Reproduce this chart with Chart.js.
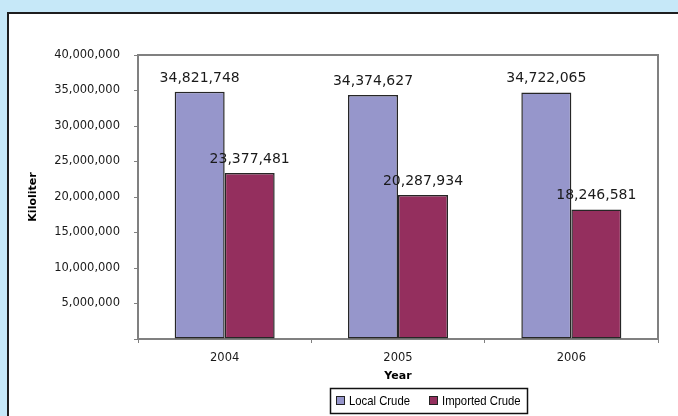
<!DOCTYPE html>
<html>
<head>
<meta charset="utf-8">
<script src="https://cdn.jsdelivr.net/npm/chart.js@4/dist/chart.umd.min.js"></script>
<style>
  html, body { margin: 0; padding: 0; width: 678px; height: 416px; overflow: hidden; background: #c6e8f8; }
  #panel { position: absolute; left: 7px; top: 12px; width: 800px; height: 500px; background: #ffffff;
           border-left: 2px solid #1e1e1e; border-top: 2px solid #1e1e1e; }
  #chart { position: absolute; left: 0; top: 0; }
</style>
</head>
<body>
<div id="panel"></div>
<canvas id="chart" width="678" height="416"></canvas>
<script>
// Crude oil supply by year, in kiloliters
const categories = ['2004', '2005', '2006'];
const localCrude = [34821748, 34374627, 34722065];
const importedCrude = [23377481, 20287934, 18246581];
const seriesNames = ['Local Crude', 'Imported Crude'];
const yMax = 40000000;
const yStep = 5000000;

const fmt = v => v.toLocaleString('en-US');
const AXIS = '#808080';

// Frame on top/right of the plot, value labels, axis titles and a boxed legend
const decorations = {
  id: 'decorations',
  afterDatasetsDraw(chart) {
    const { ctx, chartArea: a } = chart;
    ctx.save();
    // plot frame (top and right)
    ctx.strokeStyle = AXIS;
    ctx.lineWidth = 2;
    ctx.beginPath();
    ctx.moveTo(a.left, a.top);
    ctx.lineTo(a.right, a.top);
    ctx.lineTo(a.right, a.bottom);
    ctx.stroke();

    // value labels above bars
    ctx.fillStyle = '#1a1a1a';
    ctx.font = '14px "DejaVu Sans"';
    ctx.textAlign = 'center';
    ctx.textBaseline = 'alphabetic';
    chart.data.datasets.forEach((ds, i) => {
      chart.getDatasetMeta(i).data.forEach((bar, j) => {
        ctx.fillText(fmt(ds.data[j]), bar.x, bar.y - 10);
      });
    });

    // axis titles
    ctx.fillStyle = '#000';
    ctx.font = 'bold 11px "DejaVu Sans"';
    ctx.textBaseline = 'middle';
    ctx.fillText('Year', (a.left + a.right) / 2, a.bottom + 37);
    ctx.save();
    ctx.translate(33, (a.top + a.bottom) / 2);
    ctx.rotate(-Math.PI / 2);
    ctx.fillText('Kiloliter', 0, 0);
    ctx.restore();

    // legend
    const lx = a.left + 192, ly = a.bottom + 49, lw = 197, lh = 25;
    ctx.strokeStyle = '#111';
    ctx.lineWidth = 1.5;
    ctx.strokeRect(lx + 0.5, ly + 0.5, lw, lh);
    const items = [
      { x: lx + 6, ds: chart.data.datasets[0] },
      { x: lx + 99, ds: chart.data.datasets[1] }
    ];
    ctx.font = '13px "Liberation Sans"';
    ctx.textAlign = 'left';
    items.forEach(it => {
      const sy = ly + 8;
      ctx.fillStyle = it.ds.backgroundColor;
      ctx.fillRect(it.x, sy, 8, 8);
      ctx.strokeStyle = '#222';
      ctx.lineWidth = 1;
      ctx.strokeRect(it.x + 0.5, sy + 0.5, 8, 8);
      ctx.save();
      ctx.translate(it.x + 13, ly + 13);
      ctx.scale(0.87, 1);
      ctx.fillStyle = '#000';
      ctx.fillText(it.ds.label, 0, 0);
      ctx.restore();
    });
    ctx.restore();
  }
};

new Chart(document.getElementById('chart'), {
  type: 'bar',
  data: {
    labels: categories,
    datasets: [
      { label: seriesNames[0], data: localCrude, backgroundColor: '#9696cb',
        borderColor: '#262626', borderWidth: 1.5, borderSkipped: false },
      { label: seriesNames[1], data: importedCrude, backgroundColor: '#942f5e',
        borderColor: '#262626', borderWidth: 1.5, borderSkipped: false }
    ]
  },
  options: {
    responsive: false,
    animation: false,
    devicePixelRatio: 1,
    layout: { padding: { left: 0, top: 55, right: 20, bottom: 0 } },
    datasets: { bar: { categoryPercentage: 0.577, barPercentage: 1 } },
    plugins: { legend: { display: false }, tooltip: { enabled: false } },
    scales: {
      x: {
        afterFit(s) { s.height = 77; },
        grid: { offset: true, drawOnChartArea: false, tickLength: 4, color: AXIS, lineWidth: 1 },
        border: { color: AXIS, width: 2 },
        ticks: { padding: 8, color: '#1a1a1a', font: { family: 'DejaVu Sans', size: 11.5 } }
      },
      y: {
        min: 0, max: yMax,
        afterFit(s) { s.width = 138; },
        grid: { drawOnChartArea: false, tickLength: 4, color: AXIS, lineWidth: 1 },
        border: { color: AXIS, width: 2 },
        ticks: {
          stepSize: yStep, padding: 14, color: '#1a1a1a',
          font: { family: 'DejaVu Sans', size: 11.5 },
          callback: v => (v === 0 ? '' : fmt(v))
        }
      }
    }
  },
  plugins: [decorations]
});
</script>
</body>
</html>
